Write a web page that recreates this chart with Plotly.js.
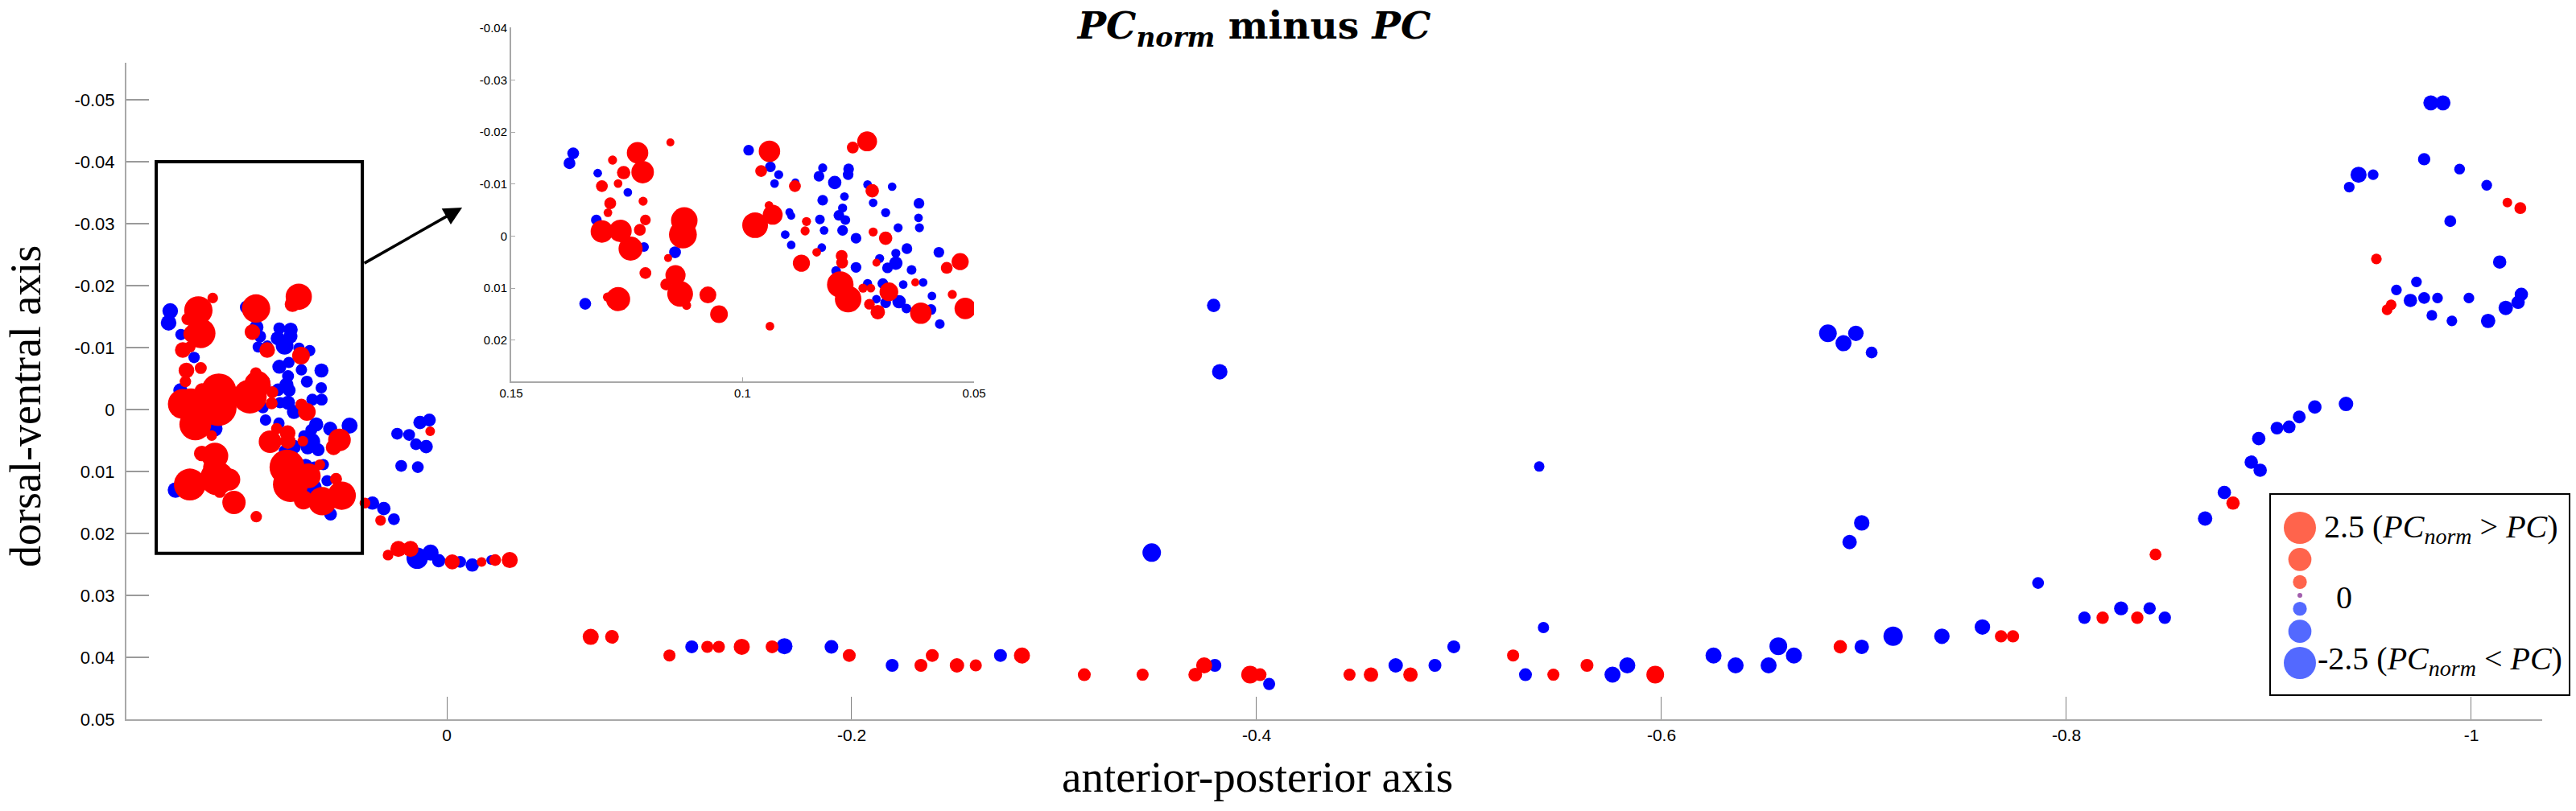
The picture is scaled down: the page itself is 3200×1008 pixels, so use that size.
<!DOCTYPE html>
<html>
<head>
<meta charset="utf-8">
<script src="https://cdn.plot.ly/plotly-3.0.1.min.js"></script>
<style>
  html, body { margin: 0; padding: 0; background: #fff; }
  #chart { width: 3200px; height: 1008px; }
</style>
</head>
<body>
<div id="chart"></div>
<script>
// cluster inside the box (also shown magnified in the inset)
const clusterX = [
  0.1366, 0.1374, 0.1313, 0.1281, 0.1227, 0.1216, 0.1257, 0.1156, 0.1304, 0.1269,
  0.1248, 0.1215, 0.1286, 0.1291, 0.1316, 0.1210, 0.1222, 0.1304, 0.1264, 0.1242,
  0.1213, 0.1126, 0.1129, 0.1146, 0.1161, 0.1210, 0.1145, 0.1165, 0.1135, 0.1121,
  0.1075, 0.1051, 0.1269, 0.1292, 0.1340,
  0.0987, 0.0942, 0.0940, 0.0960, 0.0922, 0.0931, 0.0886, 0.0887, 0.0943, 0.0935,
  0.0973, 0.0899, 0.0895, 0.0862, 0.0865, 0.0908, 0.0895, 0.0873, 0.0840, 0.0829,
  0.0833, 0.0824, 0.0827, 0.0835, 0.0827, 0.0801, 0.0780, 0.0784, 0.0792, 0.0778,
  0.0784, 0.0755, 0.0771, 0.0772, 0.0762, 0.0731, 0.0730, 0.0720, 0.0718, 0.0677,
  0.0691, 0.0619, 0.0620, 0.0618, 0.0664, 0.0718, 0.0691, 0.0645, 0.0669, 0.0704,
  0.0711, 0.0669, 0.0687, 0.0635, 0.0576, 0.0530, 0.0559, 0.0786, 0.0785, 0.0755,
  0.0798, 0.0789, 0.0772, 0.0730, 0.0740, 0.0723, 0.0697, 0.0684, 0.0653, 0.0627,
  0.0610, 0.0711, 0.0691, 0.0662, 0.0646, 0.0726, 0.0708, 0.0615, 0.0593, 0.0591,
  0.0547, 0.0519, 0.0574, 0.0941, 0.0480
];
const clusterY = [
  -0.0159, -0.0140, -0.0121, -0.0146, -0.0160, -0.0123, -0.0122, -0.0180, -0.0096, -0.0101,
  -0.0084, -0.0067, -0.0063, -0.0045, -0.0031, -0.0031, -0.0012, -0.0009, -0.0010, 0.0024,
  0.0021, -0.0030, -0.0003, 0.0031, 0.0042, 0.0071, 0.0075, 0.0093, 0.0111, 0.0133,
  0.0113, 0.0150, 0.0121, 0.0117, 0.0130,
  -0.0165, -0.0163, -0.0133, -0.0125, -0.0118, -0.0101, -0.0103, -0.0096, -0.0059, -0.0041,
  -0.0021, -0.0046, -0.0039, -0.0028, -0.0010, -0.0003, 0.0017, 0.0052, 0.0031, 0.0022,
  -0.0032, -0.0011, -0.0069, -0.0115, -0.0131, -0.0103, -0.0076, -0.0054, -0.0040, -0.0031,
  -0.0011, 0.0004, -0.0129, -0.0118, -0.0170, -0.0182, -0.0099, -0.0087, -0.0064, -0.0095,
  -0.0045, -0.0063, -0.0035, -0.0016, -0.0016, -0.0008, 0.0004, 0.0024, 0.0033, 0.0043,
  0.0051, 0.0052, 0.0061, 0.0065, 0.0031, 0.0049, 0.0061, 0.0038, 0.0051, 0.0060,
  0.0067, 0.0093, 0.0121, 0.0091, 0.0100, 0.0100, 0.0091, 0.0107, 0.0093, 0.0089,
  0.0089, 0.0121, 0.0128, 0.0126, 0.0139, 0.0131, 0.0146, 0.0148, 0.0141, 0.0115,
  0.0112, 0.0139, 0.0169, 0.0173, 0.0026
];
// PC_norm minus PC for each cluster point
const clusterDiff = [
  -0.79, -0.79, -0.43, 0.48, 1.88, 2.0, 0.97, 0.36, 0.79, 0.43,
  -0.43, 0.48, 0.79, 0.43, -0.66, 0.66, 0.79, 2.0, 2.0, 2.18,
  -0.55, 2.45, 2.6, -0.79, 0.36, 0.79, 1.73, 0.79, 2.36, 0.48,
  1.36, 1.45, 2.18, 0.48, -0.79,
  -0.66, 1.88, -0.66, 0.79, -0.48, -0.43, -0.36, 0.79, 0.43, 1.70,
  2.36, -0.36, -0.36, 0.48, 0.48, -0.43, -0.43, 1.39, 0.43, -0.43,
  -0.55, -0.43, -0.66, -0.66, -0.48, -0.97, -0.43, -0.48, -0.66, -0.55,
  -0.66, -0.66, -0.66, -0.66, 0.79, 1.70, -0.43, 0.97, -0.43, -0.43,
  -0.48, -0.66, -0.43, -0.48, -0.48, 0.48, 0.97, -0.66, -0.48, -0.48,
  0.36, -0.97, -0.66, -0.55, -0.66, 1.39, 0.79, 0.79, 0.79, -0.66,
  -0.55, 2.45, 2.45, -0.48, 0.48, 0.43, -0.66, 1.57, -0.43, 0.36,
  -0.43, -0.43, -0.66, -0.97, -0.55, 0.66, 1.09, 1.88, -0.66, -0.43,
  0.48, 1.88, -0.55, 0.43, -0.83
];

// all other points of the main plot
const otherX = [
  0.0132, 0.0086, 0.0082, 0.0245, 0.0186, 0.0152, 0.0102, 0.0225, 0.0143, 0.0404,
  0.0367, 0.0311, 0.0327, 0.0261, 0.0290, 0.0239, 0.0179, 0.0146, 0.0080, 0.0040,
  -0.0027, -0.0066, -0.0126, -0.0172, -0.0219, -0.0239, -0.0311,
  -0.3788, -0.3818, -0.3482, -0.5396,
  -0.0711, -0.0816, -0.1100, -0.1210, -0.1287, -0.1344, -0.1457, -0.1607, -0.1668, -0.1900,
  -0.1988, -0.2200, -0.2342, -0.2398, -0.2520, -0.2613, -0.2735, -0.2841, -0.3149, -0.3437,
  -0.3697, -0.3741, -0.3794, -0.3968, -0.4017, -0.4062, -0.4459, -0.4565, -0.4760, -0.4687,
  -0.4881, -0.4974, -0.5417, -0.5267, -0.5328, -0.5466, -0.5632, -0.5831, -0.5758, -0.5969,
  -0.6257, -0.6366, -0.6529, -0.6577, -0.6654,
  -0.6822, -0.6899, -0.6960, -0.7038, -0.6989, -0.6929, -0.7860, -0.8440, -0.8685, -0.8780,
  -0.8823, -0.6883, -0.6989, -0.7144, -0.7385, -0.7585, -0.7677, -0.7736, -0.8089, -0.8179,
  -0.8270, -0.8350, -0.8411, -0.8486,
  -0.8913, -0.8957, -0.8950, -0.9040, -0.9100, -0.9150, -0.9227, -0.9381,
  -0.9800, -0.9860, -0.9767, -0.9443, -0.9515, -0.9397, -0.9942, -1.0076, -1.0178, -1.0242,
  -0.9896, -0.9531, -1.0140, -0.9729, -0.9630, -0.9699, -0.9767, -0.9833, -0.9988, -0.9805,
  -0.9904, -1.0083, -1.0170, -1.0231, -1.0247, -0.9584, -0.9604
];
const otherY = [
  0.0021, 0.0017, 0.0035, 0.0039, 0.0041, 0.0056, 0.0060, 0.0091, 0.0093, 0.0151,
  0.0151, 0.0160, 0.0179, 0.0177, 0.0235, 0.0225, 0.0225, 0.0240, 0.0231, 0.0244,
  0.0246, 0.0246, 0.0251, 0.0246, 0.0243, 0.0243, 0.0243,
  -0.0168, -0.0061, 0.0231, 0.0092,
  0.0367, 0.0367, 0.0397, 0.0383, 0.0383, 0.0383, 0.0383, 0.0383, 0.0382, 0.0383,
  0.0397, 0.0413, 0.0413, 0.0397, 0.0413, 0.0413, 0.0397, 0.0397, 0.0428, 0.0428,
  0.0428, 0.0413, 0.0413, 0.0428, 0.0428, 0.0443, 0.0428, 0.0428, 0.0428, 0.0413,
  0.0413, 0.0383, 0.0352, 0.0397, 0.0428, 0.0428, 0.0413, 0.0413, 0.0428, 0.0428,
  0.0397, 0.0413, 0.0413, 0.0382, 0.0397,
  -0.0123, -0.0107, -0.0123, -0.0092, 0.0183, 0.0214, 0.0280, 0.0234, 0.0176, 0.0134,
  0.0151, 0.0383, 0.0383, 0.0366, 0.0366, 0.0351, 0.0366, 0.0366, 0.0336, 0.0336,
  0.0321, 0.0336, 0.0321, 0.0336,
  0.0085, 0.0098, 0.0047, 0.0030, 0.0028, 0.0012, -0.0004, -0.0009,
  -0.0495, -0.0495, -0.0404, -0.0379, -0.0379, -0.0359, -0.0388, -0.0362, -0.0334, -0.0325,
  -0.0304, -0.0243, -0.0238, -0.0206, -0.0193, -0.0176, -0.0180, -0.0180, -0.0180, -0.0152,
  -0.0143, -0.0143, -0.0164, -0.0173, -0.0186, -0.0161, -0.0169
];
const otherDiff = [
  -0.60, -0.56, 0.28, -0.47, -0.47, -0.47, -0.60, -0.47, -0.47, 0.37,
  -0.60, -0.60, 0.37, -0.47, 0.37, 0.83, 0.83, -1.29, -0.83, -0.60,
  0.74, -0.47, -0.60, 0.28, -0.28, 0.47, 0.83,
  -0.60, -0.78, -1.04, -0.35,
  0.83, 0.63, 0.49, -0.56, 0.49, 0.49, 0.83, 0.56, -0.83, -0.63,
  0.56, -0.56, 0.56, 0.56, 0.69, 0.49, -0.56, 0.83, 0.56, 0.49,
  0.63, 0.83, -0.56, 0.97, 0.56, -0.49, 0.49, 0.69, 0.69, -0.69,
  -0.56, -0.56, -0.42, 0.49, -0.56, 0.49, 0.56, -0.83, -0.83, 0.97,
  -0.83, -0.83, -0.83, -0.97, -0.83,
  -0.97, -0.83, -0.78, -0.47, -0.78, -0.69, -0.47, 0.47, -0.69, -0.60,
  0.60, 0.60, -0.69, -1.11, -0.78, -0.78, 0.51, 0.51, -0.51, 0.51,
  -0.65, 0.51, -0.51, -0.51,
  -0.60, -0.60, -0.60, -0.55, -0.55, -0.55, -0.60, -0.70,
  -0.74, -0.74, -0.51, -0.83, -0.37, -0.37, -0.37, -0.37, 0.28, 0.47,
  -0.47, 0.37, -0.60, -0.37, -0.37, -0.60, -0.47, -0.37, -0.37, -0.37,
  -0.37, -0.69, -0.69, -0.60, -0.60, 0.37, 0.37
];

// size legend
const legendDiff = [2.5, 1.67, 0.83, 0, -0.83, -1.67, -2.5];

// ticks
const xTickVals = [0, -0.2, -0.4, -0.6, -0.8, -1];
const xTickText = ["0", "-0.2", "-0.4", "-0.6", "-0.8", "-1"];
const yTickVals = [-0.05, -0.04, -0.03, -0.02, -0.01, 0, 0.01, 0.02, 0.03, 0.04, 0.05];
const yTickText = ["-0.05", "-0.04", "-0.03", "-0.02", "-0.01", "0", "0.01", "0.02", "0.03", "0.04", "0.05"];
const insetXTickVals = [0.15, 0.1, 0.05];
const insetXTickText = ["0.15", "0.1", "0.05"];
const insetYTickVals = [-0.04, -0.03, -0.02, -0.01, 0, 0.01, 0.02];
const insetYTickText = ["-0.04", "-0.03", "-0.02", "-0.01", "0", "0.01", "0.02"];

// zoom box drawn round the cluster (data units)
const boxX = [0.1435, 0.0417];
const boxY = [-0.0400, 0.0232];

const RED = "#ff0000";
const BLUE = "#0000ff";

// page geometry (pixels)
const W = 3200, H = 1008;
const M = { l: 157, r: 0, t: 30, b: 114 };
function pxX(px) { return (px - M.l) / (W - M.l - M.r); }
function pxY(py) { return (H - M.b - py) / (H - M.t - M.b); }

function insetSize(v) { return 6 + 11 * Math.abs(v); }
function mainSize(v) { return 1.32 * insetSize(v); }
function legendSize(v) { return 6 + 13.6 * Math.abs(v); }

function pick(xs, ys, vs, positive) {
  const out = { x: [], y: [], v: [] };
  for (let i = 0; i < xs.length; i++) {
    if ((vs[i] > 0) === positive) {
      out.x.push(xs[i]);
      out.y.push(ys[i]);
      out.v.push(vs[i]);
    }
  }
  return out;
}

function punkte(p, color, sizeFn, xa, ya) {
  return {
    type: "scatter",
    mode: "markers",
    x: p.x,
    y: p.y,
    xaxis: xa,
    yaxis: ya,
    marker: { color: color, size: p.v.map(sizeFn), line: { width: 0 }, opacity: 1 },
    hoverinfo: "skip",
    showlegend: false,
  };
}

const allX = clusterX.concat(otherX);
const allY = clusterY.concat(otherY);
const allDiff = clusterDiff.concat(otherDiff);

const data = [
  punkte(pick(allX, allY, allDiff, false), BLUE, mainSize, "x", "y"),
  punkte(pick(allX, allY, allDiff, true), RED, mainSize, "x", "y"),
  punkte(pick(clusterX, clusterY, clusterDiff, false), BLUE, insetSize, "x2", "y2"),
  punkte(pick(clusterX, clusterY, clusterDiff, true), RED, insetSize, "x2", "y2"),
];

// legend circles, stacked from their sizes
const legSizes = legendDiff.map(legendSize);
const legY = [];
let cy = 43;
for (let i = 0; i < legSizes.length; i++) {
  if (i > 0) cy += (legSizes[i - 1] + legSizes[i]) / 2 + 5;
  legY.push(cy);
}
data.push({
  type: "scatter",
  mode: "markers",
  x: legendDiff.map(() => 38),
  y: legY,
  xaxis: "x3",
  yaxis: "y3",
  marker: {
    size: legSizes,
    color: legendDiff.map((v) => (v > 0 ? "#ff2200" : v < 0 ? "#0a2aff" : "#7a1a8a")),
    line: { width: 0 },
  },
  hoverinfo: "skip",
  showlegend: false,
});

const axisGrey = "#a8a8a8";
const tickFont = { family: "Liberation Sans, Arial, sans-serif", size: 22, color: "#000" };
const xTickFont = { family: "Liberation Sans, Arial, sans-serif", size: 21, color: "#000" };
const insetFont = { family: "Liberation Sans, Arial, sans-serif", size: 15, color: "#000" };
const serif = "Liberation Serif, Times New Roman, serif";

const layout = {
  width: W,
  height: H,
  margin: M,
  paper_bgcolor: "#fff",
  plot_bgcolor: "rgba(0,0,0,0)",
  showlegend: false,
  title: {
    text: "<b><i>PC<sub>norm</sub></i> minus <i>PC</i></b>",
    font: { family: "DejaVu Serif, serif", size: 47, color: "#000" },
    x: 1558 / W,
    xanchor: "center",
    xref: "container",
    y: 1 - 32 / H,
    yanchor: "middle",
    yref: "container",
  },
  xaxis: {
    domain: [0, pxX(3158)],
    range: [0.15825, -1.035],
    anchor: "y",
    showgrid: false,
    zeroline: false,
    showline: true,
    linecolor: axisGrey,
    linewidth: 2,
    ticks: "inside",
    ticklen: 28,
    tickwidth: 1,
    tickcolor: "#808080",
    tickmode: "array",
    tickvals: xTickVals,
    ticktext: xTickText,
    tickfont: xTickFont,
  },
  yaxis: {
    domain: [0, pxY(78)],
    range: [0.05, -0.05597],
    anchor: "x",
    showgrid: false,
    zeroline: false,
    showline: true,
    linecolor: axisGrey,
    linewidth: 2,
    ticks: "inside",
    ticklen: 28,
    tickwidth: 2,
    tickcolor: "#9a9a9a",
    tickmode: "array",
    tickvals: yTickVals,
    ticktext: yTickText,
    tickfont: tickFont,
    ticklabelstandoff: 8,
  },
  xaxis2: {
    domain: [pxX(635), pxX(1210)],
    range: [0.15, 0.05],
    anchor: "y2",
    showgrid: false,
    zeroline: false,
    showline: true,
    linecolor: axisGrey,
    linewidth: 2,
    ticks: "inside",
    ticklen: 5,
    tickcolor: axisGrey,
    tickmode: "array",
    tickvals: insetXTickVals,
    ticktext: insetXTickText,
    tickfont: insetFont,
  },
  yaxis2: {
    domain: [pxY(474), pxY(34)],
    range: [0.0279, -0.0401],
    anchor: "x2",
    showgrid: false,
    zeroline: false,
    showline: true,
    linecolor: axisGrey,
    linewidth: 2,
    ticks: "inside",
    ticklen: 5,
    tickcolor: axisGrey,
    tickmode: "array",
    tickvals: insetYTickVals,
    ticktext: insetYTickText,
    tickfont: insetFont,
  },
  xaxis3: {
    domain: [pxX(2819), pxX(3193)],
    range: [0, 374],
    anchor: "y3",
    visible: false,
    fixedrange: true,
  },
  yaxis3: {
    domain: [pxY(865), pxY(613)],
    range: [252, 0],
    anchor: "x3",
    visible: false,
    fixedrange: true,
  },
  shapes: [
    {
      type: "rect",
      xref: "x",
      yref: "y",
      x0: boxX[0],
      x1: boxX[1],
      y0: boxY[0],
      y1: boxY[1],
      line: { color: "#000", width: 4 },
    },
    {
      type: "rect",
      xref: "x3",
      yref: "y3",
      x0: 0,
      x1: 374,
      y0: 0,
      y1: 252,
      line: { color: "#000", width: 4 },
      layer: "below",
    },
  ],
  annotations: [
    {
      // arrow from the box to the inset
      xref: "x",
      yref: "y",
      x: -0.0076,
      y: -0.0326,
      ax: -123,
      ay: 70,
      text: "",
      showarrow: true,
      arrowhead: 2,
      arrowsize: 1.3,
      arrowwidth: 3.5,
      arrowcolor: "#000",
      standoff: 0,
    },
    {
      xref: "paper",
      yref: "paper",
      x: pxX(32),
      y: pxY(505),
      text: "dorsal-ventral axis",
      textangle: -90,
      showarrow: false,
      font: { family: serif, size: 54, color: "#000" },
      xanchor: "center",
      yanchor: "middle",
    },
    {
      xref: "paper",
      yref: "paper",
      x: pxX(1562),
      y: pxY(965),
      text: "anterior-posterior axis",
      showarrow: false,
      font: { family: serif, size: 55, color: "#000" },
      xanchor: "center",
      yanchor: "middle",
    },
    {
      xref: "x3",
      yref: "y3",
      x: 66,
      y: 44,
      text: "2.5 (<i>PC<sub>norm</sub></i> &gt; <i>PC</i>)",
      showarrow: false,
      xanchor: "left",
      yanchor: "middle",
      font: { family: serif, size: 40, color: "#000" },
    },
    {
      xref: "x3",
      yref: "y3",
      x: 93,
      y: 129,
      text: "0",
      showarrow: false,
      xanchor: "center",
      yanchor: "middle",
      font: { family: serif, size: 40, color: "#000" },
    },
    {
      xref: "x3",
      yref: "y3",
      x: 58,
      y: 208,
      text: "-2.5 (<i>PC<sub>norm</sub></i> &lt; <i>PC</i>)",
      showarrow: false,
      xanchor: "left",
      yanchor: "middle",
      font: { family: serif, size: 40, color: "#000" },
    },
  ],
};

Plotly.newPlot("chart", data, layout, { staticPlot: true, displayModeBar: false });
</script>
</body>
</html>
